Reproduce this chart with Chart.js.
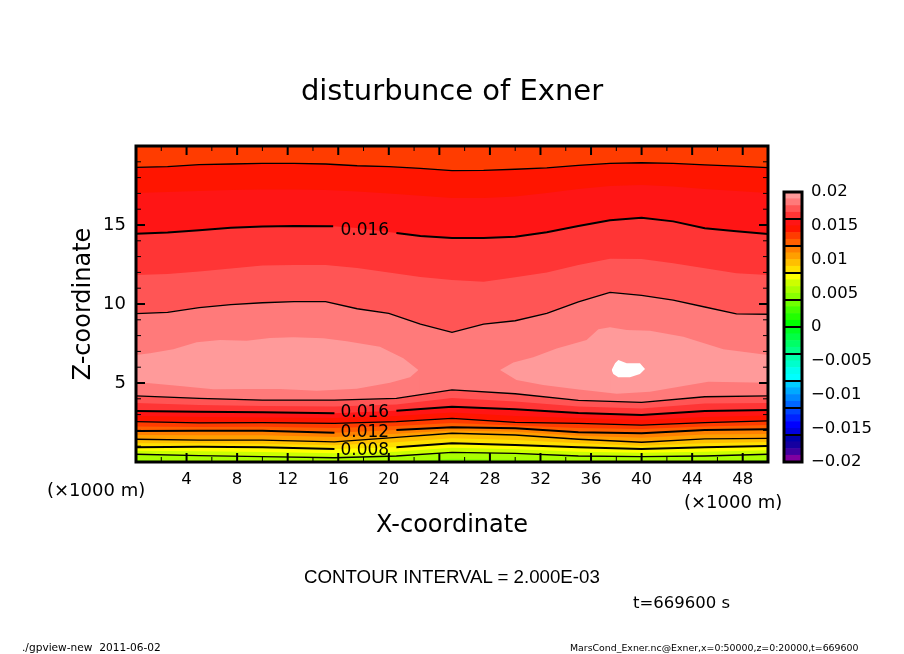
<!DOCTYPE html>
<html>
<head>
<meta charset="utf-8">
<title>disturbunce of Exner</title>
<script src="https://cdn.jsdelivr.net/npm/chart.js@4"></script>
<style>
    body { margin: 0; background: #fff; }
    #wrap { position: relative; width: 904px; height: 654px; overflow: hidden; }
    canvas { position: absolute; left: 0; top: 0; }
    .note { position: absolute; color: #000; font-family: "DejaVu Sans", sans-serif; white-space: pre; line-height: 1; }
</style>
</head>
<body>
<div id="wrap">
    <canvas id="contourChart" width="904" height="654"></canvas>
    <canvas id="colorBar" width="904" height="654"></canvas>
    <div class="note" style="left:47px;top:481px;font-size:18px">(×1000 m)</div>
    <div class="note" style="left:684px;top:493px;font-size:18px">(×1000 m)</div>
    <div class="note" style="left:304px;top:568px;font-size:18.7px;font-family:'Liberation Sans'">CONTOUR INTERVAL = 2.000E-03</div>
    <div class="note" style="left:633px;top:595px;font-size:16.5px">t=669600 s</div>
    <div class="note" style="left:22px;top:642px;font-size:10.6px">./gpview-new  2011-06-02</div>
    <div class="note" style="left:570px;top:643px;font-size:9.4px">MarsCond_Exner.nc@Exner,x=0:50000,z=0:20000,t=669600</div>
</div>
<script>
// x positions of the contours (x1000 m)
const upperX = [0, 2.5, 5, 7.5, 10, 12.5, 15, 17.5, 20, 22.5, 25, 27.5, 30, 32.5, 35, 37.5, 40, 42.5, 45, 47.5, 50];
const upperLabelX = [0, 2.5, 5, 7.5, 10, 12.5, 15.6, 17.5, 20.6, 22.5, 25, 27.5, 30, 32.5, 35, 37.5, 40, 42.5, 45, 47.5, 50];
const lowerX = [0, 5, 10, 15.7, 20.6, 25, 30, 35, 40, 45, 50];

// upper half of the field, top to bottom
const level014Upper = [18.65, 18.70, 18.82, 18.86, 18.90, 18.90, 18.86, 18.75, 18.69, 18.59, 18.44, 18.46, 18.53, 18.61, 18.78, 18.90, 18.94, 18.90, 18.80, 18.72, 18.63];
const level015Upper = [17.03, 17.09, 17.15, 17.22, 17.25, 17.25, 17.22, 17.12, 17.00, 16.85, 16.71, 16.71, 16.80, 17.03, 17.28, 17.47, 17.53, 17.44, 17.28, 17.15, 17.03];
const level016Upper = [14.45, 14.53, 14.66, 14.82, 14.91, 14.94, 14.92, 14.81, 14.50, 14.30, 14.18, 14.18, 14.26, 14.54, 14.94, 15.30, 15.46, 15.23, 14.79, 14.60, 14.43];
const level017Upper = [11.84, 11.90, 12.06, 12.25, 12.44, 12.47, 12.47, 12.28, 11.99, 11.71, 11.52, 11.41, 11.69, 12.00, 12.47, 12.87, 12.85, 12.58, 12.26, 11.94, 11.84];
const level018Upper = [9.39, 9.47, 9.77, 9.96, 10.08, 10.15, 10.15, 9.70, 9.41, 8.73, 8.21, 8.72, 8.94, 9.41, 10.13, 10.74, 10.54, 10.25, 9.81, 9.37, 9.35];

// the two pale lobes and the white spot
const leftLobeTopX = [0, 1.11, 2.95, 4.8, 6.65, 8.76, 10.6, 12.45, 14.82, 16.67, 19.3, 21.15, 22.34];
const leftLobeTopZ = [6.77, 6.88, 7.13, 7.58, 7.72, 7.68, 7.85, 7.89, 7.83, 7.64, 7.30, 6.56, 5.82];
const leftLobeBottomX = [0, 1.11, 3.48, 6.12, 8.76, 11.39, 14.3, 17.46, 20.1, 21.68, 22.34, 22.45];
const leftLobeBottomZ = [5.04, 4.98, 4.81, 4.60, 4.62, 4.62, 4.51, 4.64, 5.02, 5.36, 5.82, 5.82];
const rightLobeTopX = [28.8, 29.85, 31.43, 33.28, 35.65, 36.58, 37.5, 38.82, 40.66, 43.3, 46.47, 50];
const rightLobeTopZ = [5.82, 6.29, 6.63, 7.19, 7.72, 8.40, 8.53, 8.35, 8.31, 7.93, 7.13, 6.77];
const rightLobeBottomX = [28.7, 28.8, 30.1, 32.2, 34.87, 38.03, 40.66, 43.3, 45.28, 50];
const rightLobeBottomZ = [5.82, 5.82, 5.19, 4.87, 4.60, 4.32, 4.45, 4.81, 5.08, 5.02];
const spotTopX = [37.63, 37.9, 38.16, 38.82, 39.87, 40.27];
const spotTopZ = [5.82, 6.25, 6.46, 6.25, 6.25, 5.89];
const spotBottomX = [37.55, 37.63, 37.76, 38.16, 39.08, 39.87, 40.27, 40.35];
const spotBottomZ = [5.82, 5.82, 5.57, 5.36, 5.36, 5.57, 5.89, 5.89];

// lower half of the field, top to bottom
const level018Lower = [4.18, 4.03, 3.92, 3.92, 4.03, 4.56, 4.32, 3.90, 3.78, 4.13, 4.18];
const level017Lower = [3.73, 3.61, 3.54, 3.51, 3.64, 4.05, 3.83, 3.51, 3.39, 3.71, 3.73];
const level016Lower = [3.23, 3.18, 3.15, 3.08, 3.25, 3.50, 3.34, 3.10, 2.97, 3.23, 3.29];
const level015Lower = [2.91, 2.85, 2.82, 2.78, 2.91, 3.13, 2.91, 2.78, 2.66, 2.85, 2.94];
const level014Lower = [2.55, 2.47, 2.49, 2.45, 2.55, 2.76, 2.51, 2.45, 2.34, 2.49, 2.60];
const level013Lower = [2.25, 2.22, 2.23, 2.15, 2.28, 2.47, 2.31, 2.15, 2.09, 2.25, 2.34];
const level012Lower = [1.96, 1.98, 1.98, 1.85, 2.03, 2.20, 2.13, 1.88, 1.82, 2.03, 2.07];
const level011Lower = [1.71, 1.69, 1.69, 1.58, 1.79, 2.00, 1.92, 1.66, 1.53, 1.74, 1.78];
const level010Lower = [1.44, 1.39, 1.39, 1.28, 1.56, 1.82, 1.71, 1.44, 1.25, 1.46, 1.50];
const level009Lower = [1.18, 1.18, 1.16, 1.06, 1.25, 1.50, 1.39, 1.18, 1.03, 1.19, 1.27];
const level008Lower = [0.93, 0.97, 0.93, 0.82, 0.93, 1.18, 1.08, 0.93, 0.82, 0.93, 1.01];
const level007Lower = [0.71, 0.68, 0.63, 0.55, 0.65, 0.90, 0.81, 0.65, 0.58, 0.65, 0.75];
const level006Lower = [0.49, 0.40, 0.34, 0.27, 0.38, 0.61, 0.55, 0.38, 0.34, 0.38, 0.49];
const level005Lower = [0.12, 0, 0, 0, 0, 0.20, 0.15, 0.05, 0, 0.05, 0.12];

// contour labels
const contourLabels = ['0.016', '0.016', '0.012', '0.008'];
const contourLabelX = [18.1, 18.1, 18.1, 18.1];
const contourLabelZ = [14.65, 3.13, 1.86, 0.75];

// axis ticks
const xTicks = [4, 8, 12, 16, 20, 24, 28, 32, 36, 40, 44, 48];
const xMinorTicks = [2, 6, 10, 14, 18, 22, 26, 30, 34, 38, 42, 46];
const zTicks = [5, 10, 15];
const zMinorTicks = [1, 2, 3, 4, 6, 7, 8, 9, 11, 12, 13, 14, 16, 17, 18, 19];

// colour bar, bottom to top
const colorLevels = [-0.02, -0.019, -0.018, -0.017, -0.016, -0.015, -0.014, -0.013, -0.012, -0.011, -0.01, -0.009, -0.008, -0.007, -0.006, -0.005, -0.004, -0.003, -0.002, -0.001, 0, 0.001, 0.002, 0.003, 0.004, 0.005, 0.006, 0.007, 0.008, 0.009, 0.01, 0.011, 0.012, 0.013, 0.014, 0.015, 0.016, 0.017, 0.018, 0.019, 0.02];
const colorCells = [
    '#8000a0', '#4000a0', '#1500a0', '#0000aa',
    '#0000dd', '#0000ff', '#0022ff', '#0044ff',
    '#0066ff', '#0088ff', '#00aaff', '#00ccff',
    '#00ffff', '#00ffee', '#00ffcc', '#00ffaa',
    '#00ff88', '#00ff66', '#00ff44', '#00ff22',
    '#00ff00', '#22ff00', '#44ff00', '#70ff00',
    '#88ff00', '#aaff00', '#ccff00', '#ffff00',
    '#ffdf00', '#ffbf00', '#ff9f00', '#ff8000',
    '#ff5f00', '#ff3c00', '#ff1500', '#ff1515',
    '#ff3535', '#ff5555', '#ff7a7a', '#ff9a9a'
];
const colorDividers = [-0.016, -0.012, -0.008, -0.004, 0, 0.004, 0.008, 0.012, 0.016];
const colorTicks = [-0.02, -0.015, -0.01, -0.005, 0, 0.005, 0.01, 0.015, 0.02];

const textFont = '"DejaVu Sans", sans-serif';

function toPoints(xs, zs) {
    return xs.map((x, i) => ({ x: x, y: zs[i] }));
}

function curve(xs, zs, fillColor, lineWidth) {
    return {
        data: toPoints(xs, zs),
        fill: 'origin',
        backgroundColor: fillColor,
        borderColor: lineWidth ? '#000' : 'rgba(0,0,0,0)',
        borderWidth: lineWidth,
        pointRadius: 0,
        tension: 0
    };
}

// thick contour, broken where its label sits
function labelledLine(xs, zs, gapFrom, gapTo) {
    return {
        data: toPoints(xs, zs),
        fill: false,
        borderColor: '#000',
        borderWidth: 2,
        pointRadius: 0,
        tension: 0,
        segment: {
            borderColor: ctx => (ctx.p0.parsed.x >= gapFrom && ctx.p1.parsed.x <= gapTo) ? 'rgba(0,0,0,0)' : '#000'
        }
    };
}

// each curve paints everything below itself, so the list runs from the top of the plot down
const layers = [
    curve([0, 50], [20, 20], '#ff3c00', 0),
    curve(upperX, level014Upper, '#ff1500', 1.3),
    curve(upperX, level015Upper, '#ff1515', 0),
    curve(upperLabelX, level016Upper, '#ff3535', 0),
    labelledLine(upperLabelX, level016Upper, 15.6, 20.6),
    curve(upperX, level017Upper, '#ff5555', 0),
    curve(upperX, level018Upper, '#ff7a7a', 1.3),
    curve(leftLobeTopX, leftLobeTopZ, '#ff9a9a', 0),
    curve(leftLobeBottomX, leftLobeBottomZ, '#ff7a7a', 0),
    curve(rightLobeTopX, rightLobeTopZ, '#ff9a9a', 0),
    curve(spotTopX, spotTopZ, '#ffffff', 0),
    curve(spotBottomX, spotBottomZ, '#ff9a9a', 0),
    curve(rightLobeBottomX, rightLobeBottomZ, '#ff7a7a', 0),
    curve(lowerX, level018Lower, '#ff5555', 1.3),
    curve(lowerX, level017Lower, '#ff3535', 0),
    curve(lowerX, level016Lower, '#ff1515', 0),
    labelledLine(lowerX, level016Lower, 15.7, 20.6),
    curve(lowerX, level015Lower, '#ff1500', 0),
    curve(lowerX, level014Lower, '#ff3c00', 1.3),
    curve(lowerX, level013Lower, '#ff5f00', 0),
    curve(lowerX, level012Lower, '#ff8000', 0),
    labelledLine(lowerX, level012Lower, 15.7, 20.6),
    curve(lowerX, level011Lower, '#ff9f00', 0),
    curve(lowerX, level010Lower, '#ffbf00', 1.3),
    curve(lowerX, level009Lower, '#ffdf00', 0),
    curve(lowerX, level008Lower, '#ffff00', 0),
    labelledLine(lowerX, level008Lower, 15.7, 20.6),
    curve(lowerX, level007Lower, '#ccff00', 0),
    curve(lowerX, level006Lower, '#aaff00', 1.3),
    curve(lowerX, level005Lower, '#88ff00', 0)
];
// Chart.js draws the highest order first
layers.forEach((layer, i) => { layer.order = layers.length - i; });

// ticks point inwards on all four sides, then the frame and the contour labels on top
const plotFrame = {
    id: 'plotFrame',
    afterDatasetsDraw(chart) {
        const { ctx, chartArea: a, scales: { x, y } } = chart;
        ctx.save();
        ctx.strokeStyle = '#000';
        const xMark = (v, len, w) => {
            const p = x.getPixelForValue(v);
            ctx.lineWidth = w;
            ctx.beginPath();
            ctx.moveTo(p, a.bottom); ctx.lineTo(p, a.bottom - len);
            ctx.moveTo(p, a.top); ctx.lineTo(p, a.top + len);
            ctx.stroke();
        };
        const zMark = (v, len, w) => {
            const p = y.getPixelForValue(v);
            ctx.lineWidth = w;
            ctx.beginPath();
            ctx.moveTo(a.left, p); ctx.lineTo(a.left + len, p);
            ctx.moveTo(a.right, p); ctx.lineTo(a.right - len, p);
            ctx.stroke();
        };
        xTicks.forEach(v => xMark(v, 9, 2));
        xMinorTicks.forEach(v => xMark(v, 5, 1));
        zTicks.forEach(v => zMark(v, 9, 2));
        zMinorTicks.forEach(v => zMark(v, 5, 1));
        ctx.lineWidth = 3;
        ctx.strokeRect(a.left, a.top, a.right - a.left, a.bottom - a.top);

        ctx.fillStyle = '#000';
        ctx.font = '17px ' + textFont;
        ctx.textAlign = 'center';
        ctx.textBaseline = 'middle';
        contourLabels.forEach((text, i) => {
            ctx.fillText(text, x.getPixelForValue(contourLabelX[i]), y.getPixelForValue(contourLabelZ[i]));
        });
        ctx.restore();
    }
};

new Chart(document.getElementById('contourChart'), {
    type: 'line',
    data: { datasets: layers },
    plugins: [plotFrame],
    options: {
        responsive: false,
        animation: false,
        parsing: false,
        normalized: true,
        layout: { padding: { left: 0, right: 0, top: 0, bottom: 114 } },
        plugins: {
            legend: { display: false },
            tooltip: { enabled: false },
            title: {
                display: true,
                text: 'disturbunce of Exner',
                color: '#000',
                font: { family: textFont, size: 29, weight: 'normal', lineHeight: 1.2 },
                padding: { top: 75, bottom: 36.2 }
            }
        },
        scales: {
            x: {
                type: 'linear',
                min: 0,
                max: 50,
                grid: { display: false, drawTicks: false },
                border: { display: false },
                title: { display: true, text: 'X-coordinate', color: '#000', font: { family: textFont, size: 24 }, padding: 0 },
                ticks: { color: '#000', font: { family: textFont, size: 16.5 }, padding: 8, maxRotation: 0, autoSkip: false },
                afterBuildTicks: s => { s.ticks = xTicks.map(v => ({ value: v })); },
                afterFit: s => { s.height = 78; }
            },
            y: {
                type: 'linear',
                min: 0,
                max: 20,
                grid: { display: false, drawTicks: false },
                border: { display: false },
                title: { display: true, text: 'Z-coordinate', color: '#000', font: { family: textFont, size: 24 }, padding: { top: 69, bottom: 0 } },
                ticks: { color: '#000', font: { family: textFont, size: 18 }, padding: 10, autoSkip: false },
                afterBuildTicks: s => { s.ticks = zTicks.map(v => ({ value: v })); },
                afterFit: s => { s.width = 136; }
            },
            // empty axis that keeps the plot and the title centred on the page
            rightMargin: {
                type: 'linear',
                position: 'right',
                grid: { display: false, drawTicks: false },
                border: { display: false },
                ticks: { display: false },
                afterFit: s => { s.width = 136; }
            }
        }
    }
});

// dividers and frame over the colour cells
const barFrame = {
    id: 'barFrame',
    afterDatasetsDraw(chart) {
        const { ctx, chartArea: a, scales: { y } } = chart;
        ctx.save();
        ctx.strokeStyle = '#000';
        ctx.lineWidth = 2;
        colorDividers.forEach(v => {
            const p = y.getPixelForValue(v);
            ctx.beginPath();
            ctx.moveTo(a.left, p);
            ctx.lineTo(a.right, p);
            ctx.stroke();
        });
        ctx.lineWidth = 3;
        ctx.strokeRect(a.left, a.top, a.right - a.left, a.bottom - a.top);
        ctx.restore();
    }
};

new Chart(document.getElementById('colorBar'), {
    type: 'bar',
    data: {
        labels: [''],
        datasets: colorCells.map((color, i) => ({
            data: [[colorLevels[i], colorLevels[i + 1]]],
            backgroundColor: color,
            borderWidth: 0,
            barPercentage: 1,
            categoryPercentage: 1,
            grouped: false
        }))
    },
    plugins: [barFrame],
    options: {
        responsive: false,
        animation: false,
        layout: { padding: { left: 784, right: 0, top: 192, bottom: 192 } },
        plugins: { legend: { display: false }, tooltip: { enabled: false } },
        scales: {
            x: { display: false },
            y: {
                position: 'right',
                min: -0.02,
                max: 0.02,
                grid: { display: false, drawTicks: false },
                border: { display: false },
                ticks: {
                    color: '#000',
                    font: { family: textFont, size: 16.5 },
                    padding: 9,
                    autoSkip: false,
                    callback: value => String(value).replace('-', '\u2212')
                },
                afterBuildTicks: s => { s.ticks = colorTicks.map(v => ({ value: v })); },
                afterFit: s => { s.width = 102; }
            }
        }
    }
});
</script>
</body>
</html>
